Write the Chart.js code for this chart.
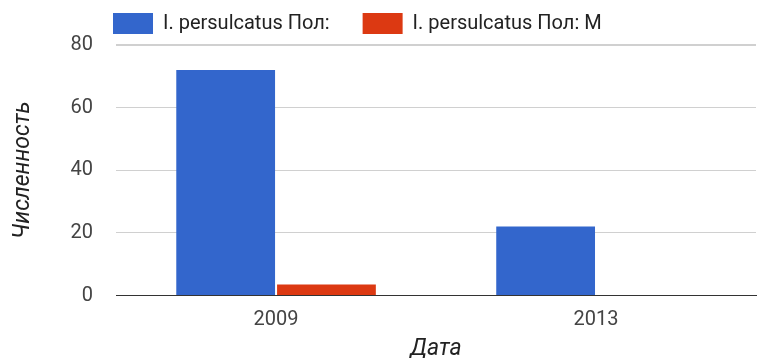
<!DOCTYPE html>
<html lang="ru">
<head>
<meta charset="UTF-8">
<title>Численность</title>
<script src="https://cdnjs.cloudflare.com/ajax/libs/Chart.js/4.4.1/chart.umd.min.js"></script>
<style>
  html, body { margin: 0; padding: 0; background: #fff; }
  #wrap { width: 760px; height: 358px; }
</style>
</head>
<body>
<div id="wrap"><canvas id="myChart" width="760" height="358"></canvas></div>
<script>
const years = ['2009', '2013'];
const seriesNames = ['I. persulcatus Пол:', 'I. persulcatus Пол: М'];
const femaleCounts = [72, 22];
const maleCounts = [3.5, 0];
const yTicks = [0, 20, 40, 60, 80];

// put legend where google charts had it (left-ish, top)
const legendShift = {
  id: 'legendShift',
  afterLayout(chart) {
    const lg = chart.legend;
    const p = lg.options.labels.padding;
    const w = lg.width;
    lg.left = 113 - p; lg.right = lg.left + w;
    lg.top = 13 - p; lg.bottom = 60;
  }
};

new Chart(document.getElementById('myChart'), {
  type: 'bar',
  data: {
    labels: years,
    datasets: [
      { label: seriesNames[0], data: femaleCounts, backgroundColor: '#3366cc', borderWidth: 0 },
      { label: seriesNames[1], data: maleCounts, backgroundColor: '#dc3912', borderWidth: 0 }
    ]
  },
  options: {
    responsive: false,
    animation: false,
    layout: { padding: { left: 9, right: 4, top: 0, bottom: 0 } },
    datasets: { bar: { categoryPercentage: 0.63, barPercentage: 0.98 } },
    plugins: {
      tooltip: { enabled: false },
      legend: {
        position: 'top',
        align: 'start',
        maxHeight: 45,
        labels: {
          boxWidth: 40,
          boxHeight: 21,
          padding: 33,
          color: '#222',
          font: { family: 'Roboto', size: 20 }
        }
      }
    },
    scales: {
      x: {
        grid: { display: false, drawTicks: false },
        border: { display: true, color: '#333' },
        ticks: { color: '#444', padding: 14, font: { family: 'Roboto', size: 20, lineHeight: 1 } },
        title: {
          display: true, text: 'Дата', color: '#222',
          font: { family: 'Roboto', size: 23, style: 'italic', lineHeight: 0.5 },
          padding: { top: 0, bottom: 3 }
        }
      },
      y: {
        min: 0, max: 80,
        afterBuildTicks(axis) { axis.ticks = yTicks.map(v => ({ value: v })); },
        grid: {
          drawTicks: false,
          color: ctx => ctx.tick && ctx.tick.value === 0 ? '#333' : '#d0d0d0',
          lineWidth: ctx => ctx.tick && ctx.tick.value === 80 ? 2 : 1
        },
        border: { display: false },
        ticks: { color: '#444', padding: 23, font: { family: 'Roboto', size: 20 } },
        title: {
          display: true, text: 'Численность', color: '#222',
          font: { family: 'Roboto', size: 23, style: 'italic' },
          padding: { top: 0, bottom: 11 }
        }
      }
    }
  },
  plugins: [legendShift]
});
</script>
</body>
</html>
